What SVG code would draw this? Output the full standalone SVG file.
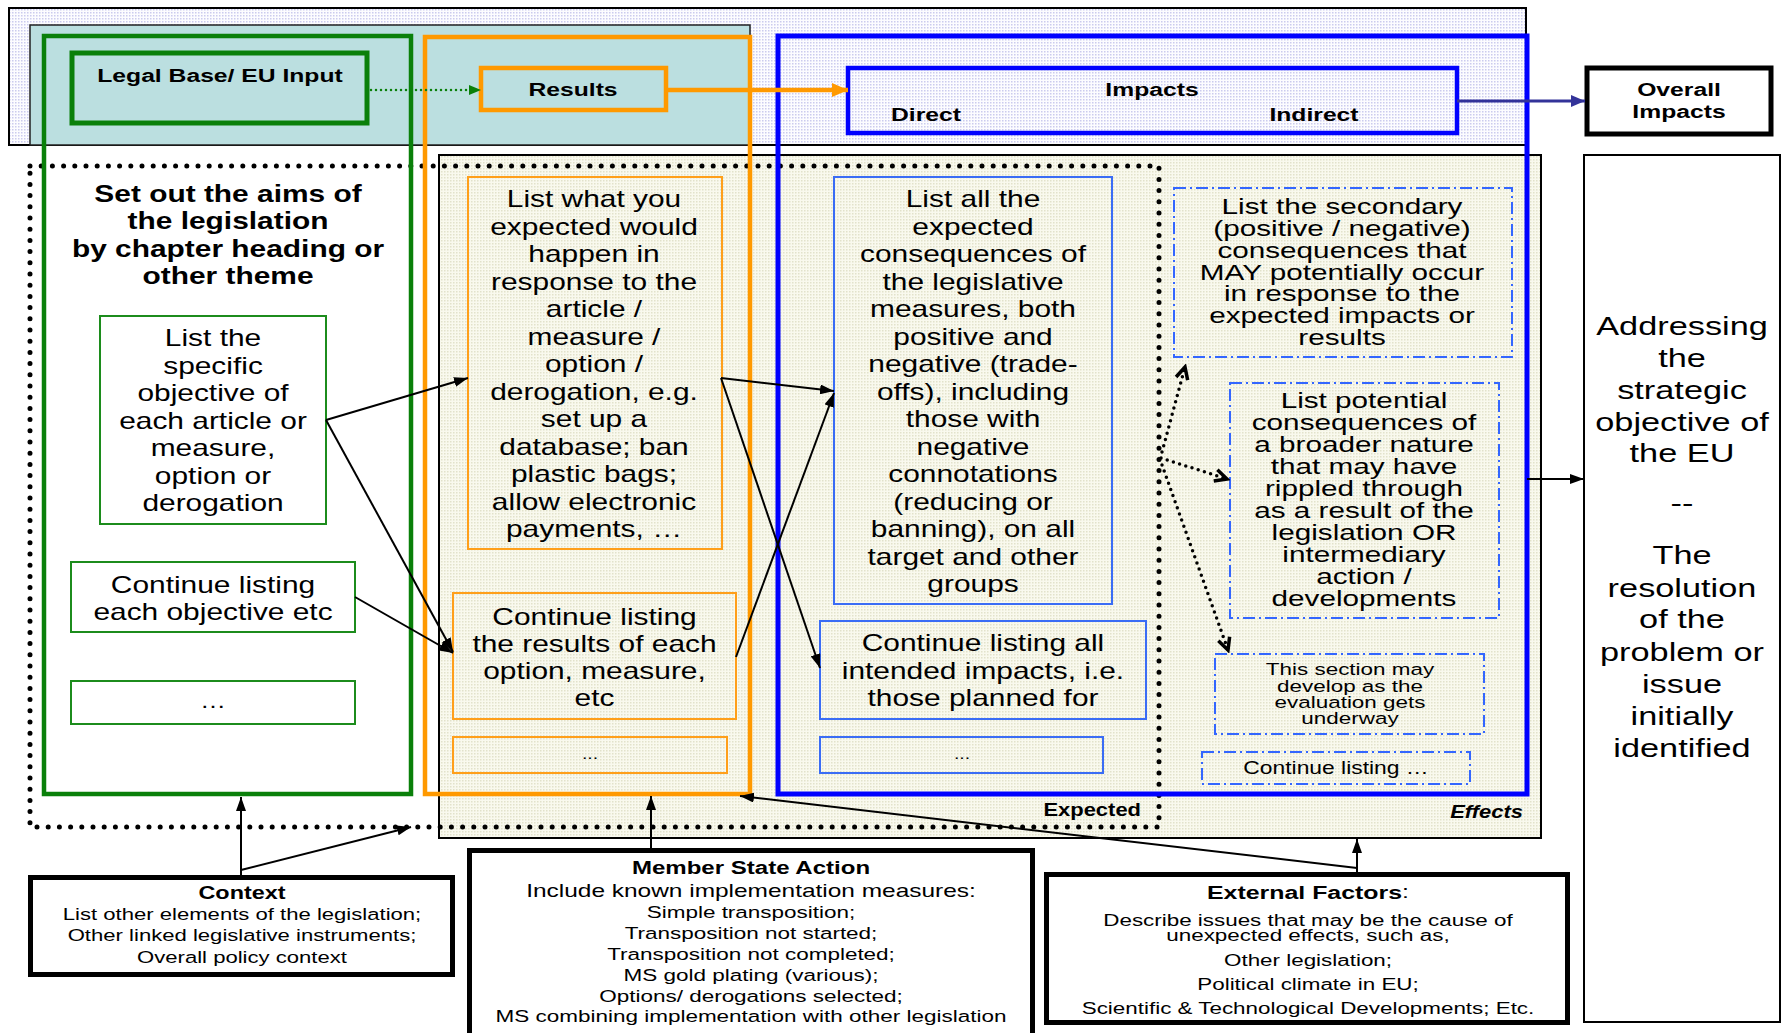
<svg xmlns="http://www.w3.org/2000/svg" width="1789" height="1033" viewBox="0 0 1789 1033">
  <style>
    text { font-family: "Liberation Sans", Arial, Helvetica, sans-serif; text-anchor: middle; dominant-baseline: central; fill: #000; }
    .b { font-weight: bold; }
    .bi { font-weight: bold; font-style: italic; }
    .end { text-anchor: end; }
    .s14 { font-size: 15px; }
    .s16 { font-size: 16px; }
    .s165 { font-size: 16.5px; }
    .s17 { font-size: 17px; }
    .s173 { font-size: 17.3px; }
    .s18 { font-size: 18px; }
    .s19 { font-size: 19px; }
    .s20 { font-size: 20px; }
    .s22 { font-size: 22px; }
    .s23 { font-size: 23px; }
    .s26 { font-size: 26px; }
    .frame { fill: none; }
    .green { stroke: #0a800a; }
    .orange { stroke: #ff9900; }
    .blue { stroke: #0000ff; }
    .gthin { fill: none; stroke: #1c8c1c; stroke-width: 2; }
    .othin { fill: none; stroke: #ff9f1a; stroke-width: 2; }
    .bthin { fill: none; stroke: #3a6cf5; stroke-width: 2; }
    .dashdot { fill: none; stroke: #3366ff; stroke-width: 2; stroke-dasharray: 12 4 2 4; }
    .heavy { fill: #fff; stroke: #000; stroke-width: 5; }
    .link { fill: none; stroke: #000; stroke-width: 2; marker-end: url(#ah); }
    .maybe { fill: none; stroke: #000; stroke-width: 3.5; stroke-dasharray: 0 6.5; stroke-linecap: round; marker-end: url(#av); }
  </style>
  <defs>
    <pattern id="lav" width="3" height="3" patternUnits="userSpaceOnUse">
      <rect width="3" height="3" fill="#fcfcff"/>
      <rect width="1.5" height="1.5" fill="#cbcbee"/>
    </pattern>
    <pattern id="beige" width="3" height="3" patternUnits="userSpaceOnUse">
      <rect width="3" height="3" fill="#f9f9ee"/>
      <rect width="1.5" height="1.5" fill="#e2e2cb"/>
    </pattern>
    <marker id="ah" viewBox="0 0 14 10" refX="14" refY="5" markerWidth="14" markerHeight="10" markerUnits="userSpaceOnUse" orient="auto">
      <path d="M0,0 L14,5 L0,10 z" fill="#000"/>
    </marker>
    <marker id="ahGreen" viewBox="0 0 12 10" refX="12" refY="5" markerWidth="12" markerHeight="10" markerUnits="userSpaceOnUse" orient="auto">
      <path d="M0,0 L12,5 L0,10 z" fill="#0a800a"/>
    </marker>
    <marker id="ahOrange" viewBox="0 0 16 14" refX="16" refY="7" markerWidth="16" markerHeight="14" markerUnits="userSpaceOnUse" orient="auto">
      <path d="M0,0 L16,7 L0,14 z" fill="#ff9900"/>
    </marker>
    <marker id="ahNavy" viewBox="0 0 14 12" refX="14" refY="6" markerWidth="14" markerHeight="12" markerUnits="userSpaceOnUse" orient="auto">
      <path d="M0,0 L14,6 L0,12 z" fill="#333399"/>
    </marker>
    <marker id="av" viewBox="-2 -2 18 16" refX="13" refY="6" markerWidth="18" markerHeight="16" markerUnits="userSpaceOnUse" orient="auto">
      <path d="M1,0 L13,6 L1,12" fill="none" stroke="#000" stroke-width="3.5"/>
    </marker>
  </defs>

  <rect width="1789" height="1033" fill="#fff"/>

  <!-- background bands -->
  <g id="bands">
    <rect x="9" y="8" width="1517" height="137" fill="url(#lav)" stroke="#000" stroke-width="2"/>
    <rect x="30" y="25" width="720" height="120" fill="#bbdfe0" stroke="#222" stroke-width="1.5"/>
    <rect x="439" y="155" width="1102" height="683" fill="url(#beige)" stroke="#000" stroke-width="2"/>
    <rect x="30" y="166" width="1129" height="661" fill="none" stroke="#000" stroke-width="5" stroke-dasharray="0 11.2" stroke-linecap="round"/>
    <g transform="translate(1141 0) scale(1.22 1)"><text class="b s18 end" x="0" y="810">Expected</text></g>
    <g transform="translate(1523 0) scale(1.22 1)"><text class="bi s18 end" x="0" y="812">Effects</text></g>
  </g>

  <!-- column frames -->
  <g id="columns">
    <rect class="frame green" x="44" y="36" width="367" height="758" stroke-width="4.5"/>
    <rect class="frame orange" x="425" y="37" width="325" height="757" stroke-width="4.5"/>
    <rect class="frame blue" x="778" y="36" width="749" height="758" stroke-width="5"/>
  </g>

  <g id="legal-base">
    <rect class="frame green" x="72" y="53" width="295" height="70" stroke-width="5"/>
    <g transform="translate(220 0) scale(1.3 1)"><text class="b s19" x="0" y="76">Legal Base/ EU Input</text></g>
  </g>

  <g id="results">
    <rect class="frame orange" x="481" y="68" width="185" height="42" stroke-width="4.5"/>
    <g transform="translate(573 0) scale(1.3 1)"><text class="b s19" x="0" y="90">Results</text></g>
  </g>

  <g id="impacts">
    <rect class="frame blue" x="848" y="68" width="609" height="65" stroke-width="4.5"/>
    <g transform="translate(1152 0) scale(1.3 1)"><text class="b s19" x="0" y="90">Impacts</text></g>
    <g transform="translate(926 0) scale(1.3 1)"><text class="b s19" x="0" y="115">Direct</text></g>
    <g transform="translate(1314 0) scale(1.3 1)"><text class="b s19" x="0" y="115">Indirect</text></g>
  </g>

  <g id="overall-impacts">
    <rect class="heavy" x="1587" y="68" width="184" height="66"/>
    <g class="b s19" transform="translate(1679 0) scale(1.3 1)">
      <text x="0" y="90">Overall</text>
      <text x="0" y="112">Impacts</text>
    </g>
  </g>

  <g id="strategic-objective">
    <rect x="1584" y="155" width="196" height="867" fill="#fff" stroke="#000" stroke-width="2"/>
    <g class="s26" transform="translate(1682 0) scale(1.32 1)">
      <text x="0" y="325.3">Addressing</text>
      <text x="0" y="357.3">the</text>
      <text x="0" y="389.2">strategic</text>
      <text x="0" y="421.2">objective of</text>
      <text x="0" y="453.1">the EU</text>
      <text x="0" y="502.2">--</text>
      <text x="0" y="554.7">The</text>
      <text x="0" y="587.8">resolution</text>
      <text x="0" y="618.6">of the</text>
      <text x="0" y="651.7">problem or</text>
      <text x="0" y="683.7">issue</text>
      <text x="0" y="715.7">initially</text>
      <text x="0" y="747.6">identified</text>
    </g>
  </g>

  <!-- legislation column -->
  <g id="aims">
    <g class="b s23" transform="translate(228 0) scale(1.3 1)">
      <text x="0" y="194">Set out the aims of</text>
      <text x="0" y="221.5">the legislation</text>
      <text x="0" y="249">by chapter heading or</text>
      <text x="0" y="276.5">other theme</text>
    </g>
  </g>

  <g id="objective">
    <rect class="gthin" x="100" y="316" width="226" height="208"/>
    <g class="s23" transform="translate(213 0) scale(1.3 1)">
      <text x="0" y="338.3">List the</text>
      <text x="0" y="366">specific</text>
      <text x="0" y="393.5">objective of</text>
      <text x="0" y="421">each article or</text>
      <text x="0" y="448.5">measure,</text>
      <text x="0" y="476">option or</text>
      <text x="0" y="503.5">derogation</text>
    </g>
  </g>

  <g id="objective-more">
    <rect class="gthin" x="71" y="562" width="284" height="70"/>
    <g class="s23" transform="translate(213 0) scale(1.3 1)">
      <text x="0" y="585">Continue listing</text>
      <text x="0" y="612">each objective etc</text>
    </g>
  </g>

  <g id="objective-etc">
    <rect class="gthin" x="71" y="681" width="284" height="43"/>
    <g class="s20" transform="translate(213 0) scale(1.3 1)"><text x="0" y="701">…</text></g>
  </g>

  <!-- results column -->
  <g id="expected-results">
    <rect class="othin" x="468" y="177" width="254" height="372"/>
    <g class="s23" transform="translate(594 0) scale(1.3 1)">
      <text x="0" y="199.3">List what you</text>
      <text x="0" y="227">expected would</text>
      <text x="0" y="254.5">happen in</text>
      <text x="0" y="282">response to the</text>
      <text x="0" y="309.5">article /</text>
      <text x="0" y="337">measure /</text>
      <text x="0" y="364.5">option /</text>
      <text x="0" y="392">derogation, e.g.</text>
      <text x="0" y="419.5">set up a</text>
      <text x="0" y="447">database; ban</text>
      <text x="0" y="474.5">plastic bags;</text>
      <text x="0" y="502">allow electronic</text>
      <text x="0" y="529.5">payments, …</text>
    </g>
  </g>

  <g id="results-more">
    <rect class="othin" x="453" y="593" width="283" height="126"/>
    <g class="s23" transform="translate(594.5 0) scale(1.3 1)">
      <text x="0" y="617">Continue listing</text>
      <text x="0" y="644">the results of each</text>
      <text x="0" y="671">option, measure,</text>
      <text x="0" y="698">etc</text>
    </g>
  </g>

  <g id="results-etc">
    <rect class="othin" x="453" y="737" width="274" height="36"/>
    <g class="s14" transform="translate(590 0) scale(1.3 1)"><text x="0" y="754">...</text></g>
  </g>

  <!-- impacts column -->
  <g id="expected-consequences">
    <rect class="bthin" x="834" y="177" width="278" height="427"/>
    <g class="s23" transform="translate(973 0) scale(1.3 1)">
      <text x="0" y="199.3">List all the</text>
      <text x="0" y="227">expected</text>
      <text x="0" y="254.5">consequences of</text>
      <text x="0" y="282">the legislative</text>
      <text x="0" y="309.5">measures, both</text>
      <text x="0" y="337">positive and</text>
      <text x="0" y="364.5">negative (trade-</text>
      <text x="0" y="392">offs), including</text>
      <text x="0" y="419.5">those with</text>
      <text x="0" y="447">negative</text>
      <text x="0" y="474.5">connotations</text>
      <text x="0" y="502">(reducing or</text>
      <text x="0" y="529.5">banning), on all</text>
      <text x="0" y="557">target and other</text>
      <text x="0" y="584.5">groups</text>
    </g>
  </g>

  <g id="intended-impacts">
    <rect class="bthin" x="820" y="621" width="326" height="98"/>
    <g class="s23" transform="translate(983 0) scale(1.3 1)">
      <text x="0" y="643.5">Continue listing all</text>
      <text x="0" y="671">intended impacts, i.e.</text>
      <text x="0" y="698.5">those planned for</text>
    </g>
  </g>

  <g id="impacts-etc">
    <rect class="bthin" x="820" y="737" width="283" height="36"/>
    <g class="s14" transform="translate(962 0) scale(1.3 1)"><text x="0" y="754">...</text></g>
  </g>

  <!-- unexpected effects -->
  <g id="secondary">
    <rect class="dashdot" x="1174" y="188" width="338" height="169"/>
    <g class="s22" transform="translate(1342 0) scale(1.35 1)">
      <text x="0" y="206.7">List the secondary</text>
      <text x="0" y="228.5">(positive / negative)</text>
      <text x="0" y="250.3">consequences that</text>
      <text x="0" y="272">MAY potentially occur</text>
      <text x="0" y="293.8">in response to the</text>
      <text x="0" y="315.6">expected impacts or</text>
      <text x="0" y="337.4">results</text>
    </g>
  </g>

  <g id="broader">
    <rect class="dashdot" x="1230" y="383" width="269" height="235"/>
    <g class="s22" transform="translate(1364 0) scale(1.35 1)">
      <text x="0" y="400.7">List potential</text>
      <text x="0" y="422.6">consequences of</text>
      <text x="0" y="444.6">a broader nature</text>
      <text x="0" y="466.5">that may have</text>
      <text x="0" y="488.5">rippled through</text>
      <text x="0" y="510.5">as a result of the</text>
      <text x="0" y="532.4">legislation OR</text>
      <text x="0" y="554.4">intermediary</text>
      <text x="0" y="576.3">action /</text>
      <text x="0" y="598.3">developments</text>
    </g>
  </g>

  <g id="develop">
    <rect class="dashdot" x="1215" y="654" width="269" height="80"/>
    <g class="s165" transform="translate(1350 0) scale(1.36 1)">
      <text x="0" y="669.3">This section may</text>
      <text x="0" y="685.7">develop as the</text>
      <text x="0" y="702.3">evaluation gets</text>
      <text x="0" y="718.5">underway</text>
    </g>
  </g>

  <g id="unexpected-more">
    <rect class="dashdot" x="1202" y="752" width="268" height="32"/>
    <g class="s18" transform="translate(1336 0) scale(1.27 1)"><text x="0" y="767">Continue listing …</text></g>
  </g>

  <!-- influences -->
  <g id="context">
    <rect class="heavy" x="30.5" y="877.5" width="422" height="97"/>
    <g transform="translate(242 0) scale(1.3 1)">
      <text class="b s18" x="0" y="893">Context</text>
      <text class="s17" x="0" y="914">List other elements of the legislation;</text>
      <text class="s17" x="0" y="935">Other linked legislative instruments;</text>
      <text class="s17" x="0" y="956.5">Overall policy context</text>
    </g>
  </g>

  <g id="member-state-action">
    <rect class="heavy" x="469.5" y="850.5" width="563" height="200"/>
    <g class="s173" transform="translate(751 0) scale(1.3 1)">
      <text class="b" style="font-size:18.5px" x="0" y="868">Member State Action</text>
      <text style="font-size:18.8px" x="0" y="891">Include known implementation measures:</text>
      <text x="0" y="912">Simple transposition;</text>
      <text x="0" y="933">Transposition not started;</text>
      <text x="0" y="954">Transposition not completed;</text>
      <text x="0" y="975">MS gold plating (various);</text>
      <text x="0" y="995.5">Options/ derogations selected;</text>
      <text x="0" y="1016">MS combining implementation with other legislation</text>
    </g>
  </g>

  <g id="external-factors">
    <rect class="heavy" x="1046.5" y="874.5" width="521" height="148"/>
    <g class="s16" transform="translate(1308 0) scale(1.4 1)">
      <text style="font-size:17.8px" x="0" y="892"><tspan class="b">External Factors</tspan>:</text>
      <text x="0" y="920">Describe issues that may be the cause of</text>
      <text x="0" y="935">unexpected effects, such as,</text>
      <text x="0" y="960">Other legislation;</text>
      <text x="0" y="984">Political climate in EU;</text>
      <text x="0" y="1008">Scientific &amp; Technological Developments; Etc.</text>
    </g>
  </g>

  <!-- connectors -->
  <g id="connectors">
    <path d="M371,90 L481,90" fill="none" stroke="#0a800a" stroke-width="2.5" stroke-dasharray="0 5" stroke-linecap="round" marker-end="url(#ahGreen)"/>
    <path d="M666,90 L848,90" fill="none" stroke="#ff9900" stroke-width="4.5" marker-end="url(#ahOrange)"/>
    <path d="M1457,101 L1585,101" fill="none" stroke="#333399" stroke-width="3" marker-end="url(#ahNavy)"/>
    <path class="link" d="M1527,479 L1584,479"/>

    <path class="link" d="M326,420 L468,378"/>
    <path class="link" d="M326,420 L453,652"/>
    <path class="link" d="M355,597 L453,653"/>
    <path class="link" d="M721,378 L834,391"/>
    <path class="link" d="M721,378 L820,668"/>
    <path class="link" d="M736,657 L834,393"/>

    <path class="maybe" d="M1162,452 L1185,367"/>
    <path class="maybe" d="M1161,458 L1227,479"/>
    <path class="maybe" d="M1162,465 L1228,650"/>

    <path class="link" d="M241,877 L241,797"/>
    <path class="link" d="M241,870 L411,827"/>
    <path class="link" d="M651,848 L651,796"/>
    <path class="link" d="M1357,872 L1357,839"/>
    <path class="link" d="M1357,868 L740,796"/>
  </g>
</svg>
